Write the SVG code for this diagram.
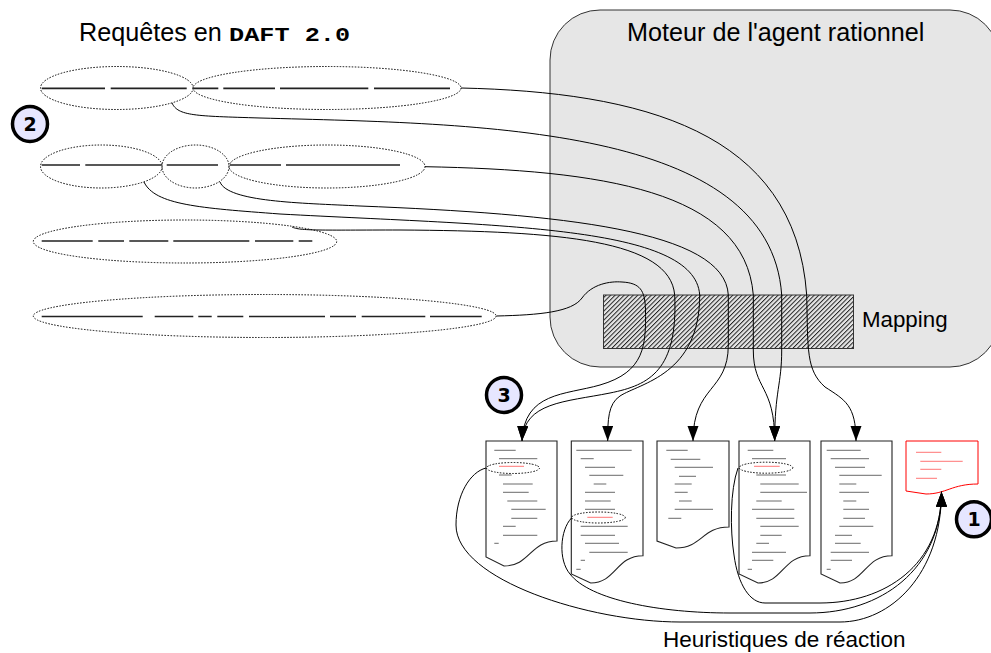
<svg xmlns="http://www.w3.org/2000/svg" width="991" height="653" viewBox="0 0 991 653">
<style>
text{font-family:"Liberation Sans",Arial,sans-serif;fill:#000}
.t{font-size:25.200px}
.m{font-size:22.300px}
.h{font-size:22.500px}
.mono{font-family:"Liberation Mono","Courier New",monospace;font-weight:bold;font-size:20px}
.e{fill:none;stroke:#000;stroke-width:1;stroke-dasharray:1.5 1.5}
.d{stroke:#222;stroke-width:1.7;fill:none}
.doc{fill:#fff;stroke:#222;stroke-width:1.1}
.docr{fill:#fff;stroke:#f00;stroke-width:1}
.l{stroke:#444;stroke-width:.8;fill:none}
.lr{stroke:#f66;stroke-width:.9;fill:none}
.c{fill:none;stroke:#000;stroke-width:1}
.b circle{fill:#e6e6ff;stroke:#000;stroke-width:3.500}
.b text{font-family:"DejaVu Sans",sans-serif;font-weight:bold;font-size:19px;text-anchor:middle}
</style>
<defs>
<pattern id="h" width="3.200" height="3.200" patternUnits="userSpaceOnUse" patternTransform="rotate(-45)"><rect width="3.200" height="3.200" fill="#e6e6e6"/><rect width="3.200" height="1" fill="#222"/></pattern>
<marker id="a" markerUnits="userSpaceOnUse" markerWidth="16" markerHeight="12" refX="15" refY="5.5" orient="auto"><path d="M0 0L15 5.500L0 11Z"/></marker>
</defs>
<g id="moteur"><rect x="550" y="10" width="450" height="357" rx="50" fill="#e6e6e6" stroke="#333" stroke-width="1"/><text class="t" x="627" y="41">Moteur de l'agent rationnel</text></g>
<g id="mapping"><rect x="603.500" y="295" width="250" height="53.500" fill="url(#h)" stroke="#333" stroke-width="1"/><text class="m" x="862" y="327">Mapping</text></g>
<g id="titre"><text class="t" x="79" y="41">Requêtes en</text><text class="mono" x="229" y="41" textLength="121" lengthAdjust="spacingAndGlyphs">DAFT 2.0</text></g>
<g id="requete1"><ellipse class="e" cx="116.800" cy="88" rx="76.300" ry="21.500"/><ellipse class="e" cx="327" cy="88" rx="134" ry="21.500"/><path class="d" d="M41.700 88.300H105M110.700 88.300H186.700M193.300 88.300H218.300M223.300 88.300H275M280 88.300H368.300M374 88.300H450"/></g>
<g id="requete2"><ellipse class="e" cx="101.300" cy="166.500" rx="60.800" ry="21.500"/><ellipse class="e" cx="195.500" cy="166.500" rx="33.500" ry="21.500"/><ellipse class="e" cx="327" cy="166.500" rx="98" ry="21.500"/><path class="d" d="M41.700 165H80M85.300 165H161.700M166.700 165H218M230 165H281M286 165H400"/></g>
<g id="requete3"><ellipse class="e" cx="185" cy="241.500" rx="151.700" ry="21.500"/><path class="d" d="M41.700 241H92.700M98.300 241H124M129.300 241H168.300M173.300 241H249.300M255 241H293.300M298.700 241H312.300"/></g>
<g id="requete4"><ellipse class="e" cx="264.700" cy="316" rx="231.400" ry="21.500"/><path class="d" d="M41.700 316.500H142.700M154.700 316.500H193.300M198.300 316.500H211.700M217.300 316.500H243.300M249 316.500H325M330 316.500H356M361.700 316.500H425.300M430 316.500H481.700"/></g>
<g id="doc1"><path class="doc" d="M486 441H557V541C530 541 530 566 504 566L486 557Z"/><path class="l" d="M494.300 450.300H515.700M499 458.700H537.300M499 475H511.700M503 484H532.700M503 492.300H528.700M507.300 501H537.300M511.300 509.300H545.700M511.300 518.300H537.300M503 526.300H515.700M503 535.300H537.300M494.300 543.300H498.700"/><path class="lr" d="M499 466.300H524"/><ellipse class="e" cx="513" cy="468" rx="26.500" ry="5.500"/></g>
<g id="doc2"><path class="doc" d="M571.300 441H643V555.700C616 555.700 616 583 590.700 583L571.300 574Z"/><path class="l" d="M576.300 450.300H631.700M580.700 458.700H593.700M585 467.300H615M589.300 475.300H623.300M593.700 484H606.300M585 492.300H615M585 501H610.700M585 509.300H615M580.700 526.300H627.700M580.700 535.300H615M585 543.300H619M589.300 552.300H627.700M580.700 560.300H585M576.300 569.300H580.700"/><path class="lr" d="M587.300 517.300H612.700"/><ellipse class="e" cx="598.500" cy="517.500" rx="26.800" ry="5.500"/></g>
<g id="doc3"><path class="doc" d="M657 441H729V527C702 527 702 548 676 548L657 541Z"/><path class="l" d="M666.300 450.300H687.700M670.700 459.300H700.300M674.700 467.300H713M679 476.300H696M674.700 484H691.700M674.700 492.300H687.700M679 501H691.700M674.700 509.300H713M668.300 518.300H681.300"/></g>
<g id="doc4"><path class="doc" d="M739 441H810V555.700C783 555.700 783 583 758 583L739 574Z"/><path class="l" d="M747.700 450.300H773.300M752 458.700H786M756.300 475H786M760.300 484H798.700M760.300 492.300H807M756.300 501H781.700M752 509.300H794.300M756.300 518.300H794.300M760.300 526.300H798.700M760.300 535.300H781.700M756.300 543.300H769M752 552.300H786M752 560.300H773.300M747.700 569.300H752"/><path class="lr" d="M754 466.300H779.700"/><ellipse class="e" cx="766" cy="467.700" rx="26.800" ry="5.500"/></g>
<g id="doc5"><path class="doc" d="M821 441H892V555.700C865 555.700 865 583 840 583L821 574Z"/><path class="l" d="M826.700 450.300H860.700M830.700 458.700H869M835 467.300H865M839.300 475.300H881.700M839.300 484H856.300M839.300 492.300H869M843.300 501H856.300M843.300 509.300H869M843.300 518.300H865M839.300 526.300H873.300M835 535.300H852M835 543.300H860.700M830.700 552.300H869M830.700 560.300H852M826.700 569.300H830.700"/></g>
<g id="doc6"><path class="docr" d="M906 441H978V484C952 484 946 494 926 494L906 491Z"/><path class="lr" d="M916 452.300H941.300M920.300 461.300H962.700M920.300 469.300H941.300M916 478.300H937"/></g>
<g id="connecteurs">
<path class="c" marker-end="url(#a)" d="M461 88C640 92 795 130 806.700 295C808 350 806 370 825 387C845 400 856 405 856 441"/>
<path class="c" marker-end="url(#a)" d="M172 103C178 116 195 116 260 118C480 124 770 125 781.700 295V350C781.700 385 774.700 390 774.700 441"/>
<path class="c" marker-end="url(#a)" d="M425 166.700C600 170 745 190 753.300 295V350C753.300 390 774.700 385 774.700 441"/>
<path class="c" marker-end="url(#a)" d="M220 182C228 202 300 203 360 206C560 214 725 230 728.300 295V345C728.300 392 693 385 693 441"/>
<path class="c" marker-end="url(#a)" d="M144 182C155 205 200 208 280 214C500 226 695 225 699.700 295C699.700 375 640 383 620 396C608 404 607.700 420 607.700 441"/>
<path class="c" marker-end="url(#a)" d="M292 227C300 231 320 230 400 230C560 231 670 240 674.700 295C678 370 650 385 610 393C565 402 524 402 522 441"/>
<path class="c" marker-end="url(#a)" d="M496.500 316C540 315 572 312 582 298C592 284 610 281 622 282C640 283 645 290 645.500 310C646 345 645 372 600 385C565 395 524 392 522 441"/>
<path class="c" marker-end="url(#a)" d="M486 468C470 472 456 495 456 525C456 580 590 622 680 622H840C890 622 941.500 575 941.500 491.700"/>
<path class="c" marker-end="url(#a)" d="M571.500 518C560 530 558 560 570 574C590 600 660 613 730 613H810C880 613 941.500 570 941.500 491.700"/>
<path class="c" marker-end="url(#a)" d="M738 468C730 490 730 530 734 555C738 585 750 603 765 603H820C885 603 941.500 565 941.500 491.700"/>
</g>
<g id="badge1" class="b"><circle cx="974" cy="519.300" r="17.500"/><text x="974" y="526">1</text></g>
<g id="badge2" class="b"><circle cx="30" cy="124" r="17.500"/><text x="30" y="131">2</text></g>
<g id="badge3" class="b"><circle cx="504" cy="395" r="17.500"/><text x="504" y="402">3</text></g>
<g id="legende"><text class="h" x="663" y="647">Heuristiques de réaction</text></g>
</svg>
